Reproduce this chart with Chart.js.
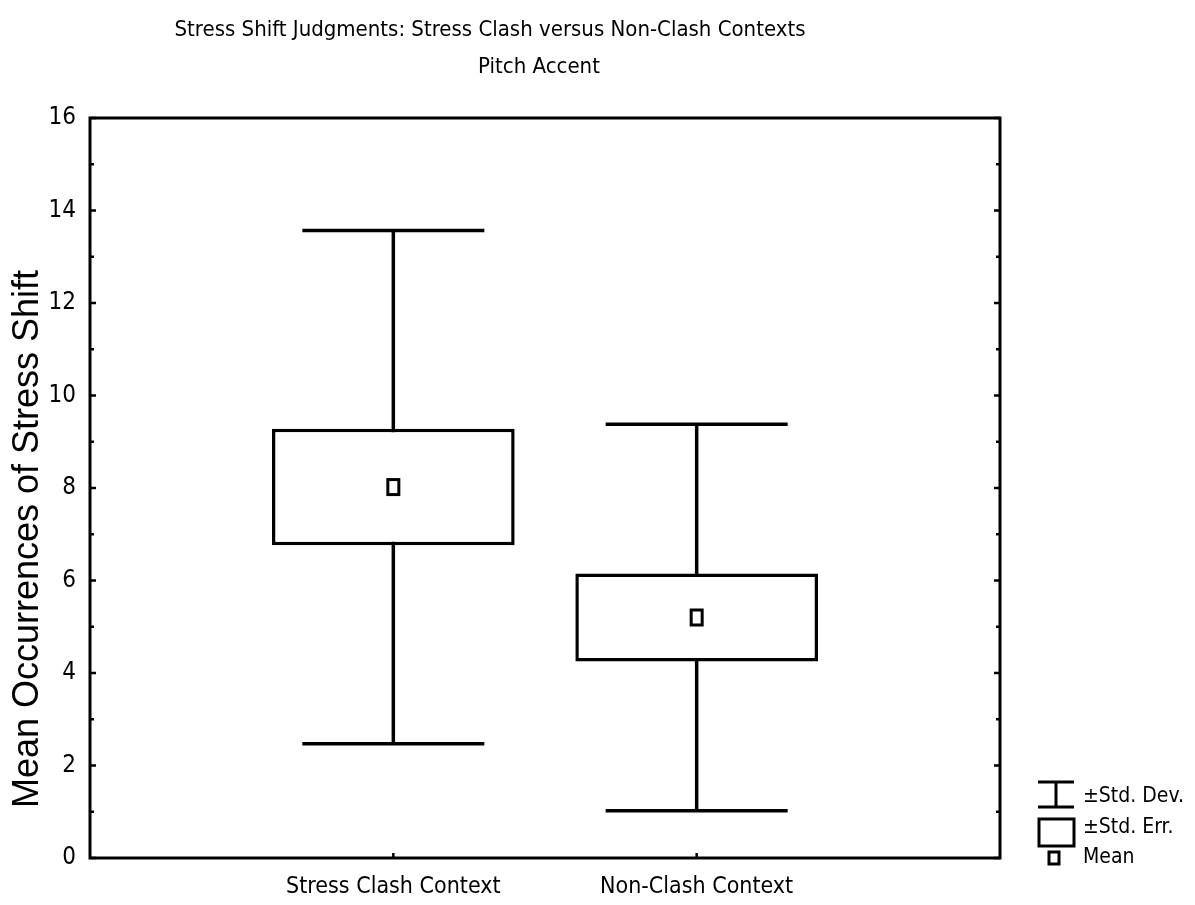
<!DOCTYPE html>
<html>
<head>
<meta charset="utf-8">
<script src="https://cdn.jsdelivr.net/npm/chart.js@4.4.1/dist/chart.umd.min.js"></script>
<style>
  html, body { margin: 0; padding: 0; background: #fff; }
  #wrap { width: 1195px; height: 905px; position: relative; }
</style>
</head>
<body>
<div id="wrap"><canvas id="c" width="1195" height="905"></canvas></div>
<script>
// Box-and-whisker style summary: mean, ±SE box, ±SD whiskers.
const categories = ["", "Stress Clash Context", "Non-Clash Context", ""];
const means = [null, 8.02, 5.2, null];
const stdErr = [null, 1.26, 0.95, null];
const stdDev = [null, 5.55, 4.18, null];
const yTicks = [0, 2, 4, 6, 8, 10, 12, 14, 16];

const TITLE = "Stress Shift Judgments: Stress Clash versus Non-Clash Contexts";
const SUBTITLE = "Pitch Accent";
const Y_LABEL = "Mean Occurrences of Stress Shift";
const NARROW = "'Liberation Sans Narrow', 'Arial Narrow', 'DejaVu Sans Condensed', sans-serif";
const REGULAR = "'Liberation Sans', Arial, sans-serif";

const seBoxes = means.map((m, i) => (m == null ? null : [m - stdErr[i], m + stdErr[i]]));

const decor = {
  id: "decor",
  beforeDatasetsDraw(chart) {
    const { ctx, scales: { x, y } } = chart;
    ctx.save();
    ctx.strokeStyle = "#000";
    ctx.lineWidth = 3.5;
    const cap = (x.getPixelForValue(1) - x.getPixelForValue(0)) * 0.3;
    means.forEach((m, i) => {
      if (m == null) return;
      const px = x.getPixelForValue(i);
      const top = y.getPixelForValue(m + stdDev[i]);
      const bot = y.getPixelForValue(m - stdDev[i]);
      ctx.beginPath();
      ctx.moveTo(px, top); ctx.lineTo(px, bot);
      ctx.moveTo(px - cap, top); ctx.lineTo(px + cap, top);
      ctx.moveTo(px - cap, bot); ctx.lineTo(px + cap, bot);
      ctx.stroke();
    });
    ctx.restore();
  },
  afterDatasetsDraw(chart) {
    const { ctx, chartArea: a, scales: { x, y } } = chart;
    ctx.save();
    ctx.strokeStyle = "#000";
    // mean markers
    ctx.lineWidth = 3;
    means.forEach((m, i) => {
      if (m == null) return;
      const px = x.getPixelForValue(i);
      const py = y.getPixelForValue(m);
      ctx.strokeRect(px - 5.5, py - 7.5, 11, 15);
    });
    // frame
    ctx.lineWidth = 3;
    ctx.strokeRect(a.left, a.top, a.right - a.left, a.bottom - a.top);
    // inward ticks left/right (major every 2, minor at odd)
    ctx.lineWidth = 2.5;
    for (let v = 0; v <= 16; v++) {
      const py = y.getPixelForValue(v);
      const len = v % 2 === 0 ? 6 : 4;
      ctx.beginPath();
      ctx.moveTo(a.left, py); ctx.lineTo(a.left + len, py);
      ctx.moveTo(a.right, py); ctx.lineTo(a.right - len, py);
      ctx.stroke();
    }
    // bottom ticks at categories
    [1, 2].forEach(i => {
      const px = x.getPixelForValue(i);
      ctx.beginPath();
      ctx.moveTo(px, a.bottom); ctx.lineTo(px, a.bottom - 5);
      ctx.stroke();
    });

    // titles
    ctx.fillStyle = "#000";
    ctx.textAlign = "center";
    ctx.textBaseline = "middle";
    ctx.font = "22px " + NARROW;
    ctx.fillText(TITLE, 490, 30);
    ctx.fillText(SUBTITLE, 539, 67);

    // y axis label
    ctx.save();
    ctx.translate(28, 539);
    ctx.rotate(-Math.PI / 2);
    ctx.font = "36px " + REGULAR;
    ctx.fillText(Y_LABEL, 0, 0);
    ctx.restore();

    // legend
    const lx = a.right + 38;
    ctx.lineWidth = 3;
    ctx.beginPath();
    ctx.moveTo(lx, 782); ctx.lineTo(lx + 36, 782);
    ctx.moveTo(lx + 18, 782); ctx.lineTo(lx + 18, 807);
    ctx.moveTo(lx, 807); ctx.lineTo(lx + 36, 807);
    ctx.stroke();
    ctx.strokeRect(lx + 1, 819, 35, 27);
    ctx.lineWidth = 3;
    ctx.strokeRect(lx + 11, 852, 10, 12);
    ctx.textAlign = "left";
    ctx.font = "21px " + NARROW;
    ctx.fillText("\u00b1Std. Dev.", lx + 45, 797);
    ctx.fillText("\u00b1Std. Err.", lx + 45, 828);
    ctx.fillText("Mean", lx + 45, 858);
    ctx.restore();
  }
};

new Chart(document.getElementById("c"), {
  data: {
    labels: categories,
    datasets: [
      {
        type: "bar",
        label: "\u00b1Std. Err.",
        data: seBoxes,
        backgroundColor: "#fff",
        borderColor: "#000",
        borderWidth: 3.5,
        borderSkipped: false,
        categoryPercentage: 0.8,
        barPercentage: 1.0
      }
    ]
  },
  options: {
    responsive: false,
    animation: false,
    events: [],
    layout: { padding: { top: 118, right: 195, left: 0, bottom: 0 } },
    plugins: { legend: { display: false }, tooltip: { enabled: false }, title: { display: false } },
    scales: {
      x: {
        type: "category",
        offset: false,
        grid: { display: false, drawTicks: false },
        border: { display: false },
        ticks: {
          color: "#000",
          font: { family: NARROW, size: 23 },
          padding: 15,
          maxRotation: 0,
          autoSkip: false
        },
        afterFit(s) { s.height = 47; }
      },
      y: {
        min: 0,
        max: 16,
        afterBuildTicks(s) { s.ticks = yTicks.map(v => ({ value: v })); },
        grid: { display: false, drawTicks: false },
        border: { display: false },
        ticks: {
          color: "#000",
          font: { family: NARROW, size: 24 },
          padding: 14
        },
        afterFit(s) { s.width = 90; }
      }
    }
  },
  plugins: [decor]
});
</script>
</body>
</html>
